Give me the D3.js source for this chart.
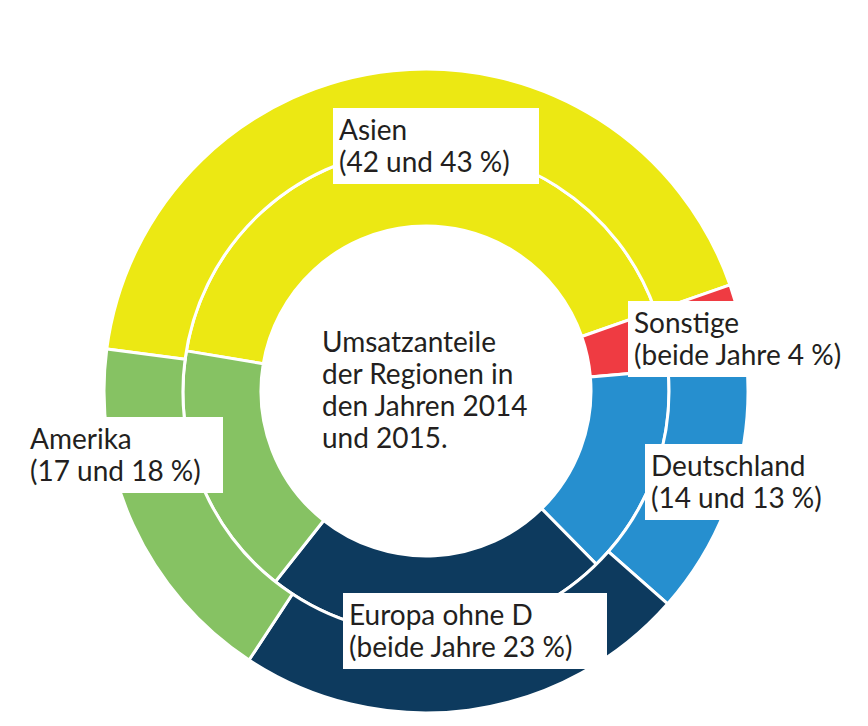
<!DOCTYPE html>
<html lang="de">
  <head>
    <meta charset="utf-8" />
    <style>
      body { margin: 0; background: #fff; }
      svg text { font-family: Lato, "Noto Sans", sans-serif; fill: #231f20; }
    </style>
  </head>
  <body>
    <script src="https://d3js.org/d3.v7.min.js"></script>
    <script>
      // data
      var regions = ["Asien", "Sonstige", "Deutschland", "Europa ohne D", "Amerika"];
      var share2014 = [42, 4, 14, 23, 17];
      var share2015 = [43, 4, 13, 23, 18];
      var labelLines = [
        ["Asien", "(42 und 43 %)"],
        ["Sonstige", "(beide Jahre 4 %)"],
        ["Deutschland", "(14 und 13 %)"],
        ["Europa ohne D", "(beide Jahre 23 %)"],
        ["Amerika", "(17 und 18 %)"]
      ];
      var centerLines = ["Umsatzanteile", "der Regionen in", "den Jahren 2014", "und 2015."];

      var colors = ["#ece813", "#ef3b42", "#268fcf", "#0d3a5e", "#86c263"];

      var width = 868,
        height = 726;
      var cx = 426,
        cy = 391;
      var rHole = 165,
        rMid = 243,
        rOut = 322;
      var fontSize = 28,
        lineH = 32;

      // label boxes, offsets from chart center
      var labelBox = [
        { x: -93, y: -283, w: 206 },
        { x: 202, y: -90, w: 230 },
        { x: 219, y: 53, w: 190 },
        { x: -83, y: 202, w: 264 },
        { x: -402, y: 26, w: 199 }
      ];

      var svg = d3.select("body")
        .append("svg")
        .attr("width", width)
        .attr("height", height);

      var g = svg.append("g").attr("transform", "translate(" + cx + "," + cy + ")");

      var color = d3.scaleOrdinal().domain(regions).range(colors);
      var deg = Math.PI / 180;

      function ring(values, r0, r1, start) {
        var pie = d3.pie().sort(null)
          .startAngle(start * deg)
          .endAngle((start + 360) * deg);
        var arc = d3.arc().innerRadius(r0).outerRadius(r1);
        g.append("g")
          .selectAll("path")
          .data(pie(values))
          .join("path")
          .attr("d", arc)
          .attr("fill", function (d, i) { return color(regions[i]); })
          .attr("stroke", "#fff")
          .attr("stroke-width", 3)
          .attr("stroke-linejoin", "miter");
      }

      // inner ring 2014, outer ring 2015
      ring(share2014, rHole, rMid, -80.5);
      ring(share2015, rMid, rOut, -82.5);

      // center text
      g.append("text")
        .attr("x", -104)
        .attr("y", -39)
        .attr("font-size", fontSize)
        .selectAll("tspan")
        .data(centerLines)
        .join("tspan")
        .attr("x", -104)
        .attr("dy", function (d, i) { return i ? lineH : 0; })
        .text(function (d) { return d; });

      // labels
      var lab = g.append("g")
        .selectAll("g")
        .data(regions)
        .join("g")
        .attr("transform", function (d, i) {
          return "translate(" + labelBox[i].x + "," + labelBox[i].y + ")";
        });

      lab.append("rect")
        .attr("width", function (d, i) { return labelBox[i].w; })
        .attr("height", 76)
        .attr("fill", "#fff");

      lab.append("text")
        .attr("font-size", fontSize)
        .selectAll("tspan")
        .data(function (d, i) { return labelLines[i]; })
        .join("tspan")
        .attr("x", 6)
        .attr("y", function (d, i) { return 32 + i * lineH; })
        .text(function (d) { return d; });
    </script>
  </body>
</html>
